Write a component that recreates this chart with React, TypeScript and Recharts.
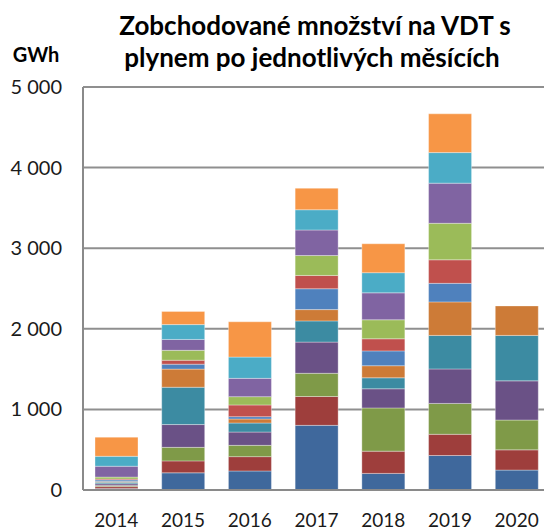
import React from "react";
import { BarChart, Bar, XAxis, YAxis, CartesianGrid } from "recharts";

const years = ["2014", "2015", "2016", "2017", "2018", "2019", "2020"];
const yTicks = [0, 1000, 2000, 3000, 4000, 5000];

const leden = [20, 213, 236, 802, 206, 428, 247];
const unor = [22, 148, 178, 358, 276, 263, 251];
const brezen = [15, 168, 140, 288, 536, 383, 370];
const duben = [20, 283, 165, 387, 238, 428, 486];
const kveten = [18, 463, 112, 263, 136, 416, 564];
const cerven = [12, 225, 50, 140, 150, 416, 366];
const cervenec = [18, 61, 29, 259, 184, 230, null];
const srpen = [10, 49, 145, 165, 150, 292, null];
const zari = [25, 123, 103, 247, 236, 453, null];
const rijen = [135, 135, 227, 317, 334, 498, null];
const listopad = [123, 184, 264, 251, 250, 379, null];
const prosinec = [238, 164, 438, 267, 359, 481, null];

const months = [
  { key: "leden", values: leden, color: "#3F689C" },
  { key: "únor", values: unor, color: "#9E3E3C" },
  { key: "březen", values: brezen, color: "#7F9A48" },
  { key: "duben", values: duben, color: "#6A5186" },
  { key: "květen", values: kveten, color: "#3C8BA2" },
  { key: "červen", values: cerven, color: "#CD7B37" },
  { key: "červenec", values: cervenec, color: "#4F81BD" },
  { key: "srpen", values: srpen, color: "#C0504D" },
  { key: "září", values: zari, color: "#9BBB59" },
  { key: "říjen", values: rijen, color: "#8064A2" },
  { key: "listopad", values: listopad, color: "#4BACC6" },
  { key: "prosinec", values: prosinec, color: "#F79646" },
];

const data = years.map((y, i) => {
  const row: Record<string, any> = { year: y };
  months.forEach((m) => {
    row[m.key] = m.values[i];
  });
  return row;
});

const FONT = "Lato, 'Open Sans', sans-serif";

const fmt = (v: number) =>
  v === 0 ? "0" : `${Math.floor(v / 1000)} ${String(v % 1000).padStart(3, "0")}`;

const YTick = (props: any) => {
  const { y, payload } = props;
  return (
    <text x={62} y={y + 7} textAnchor="end" fontFamily={FONT} fontSize={20} fill="#1a1a1a">
      {fmt(payload.value)}
    </text>
  );
};

const XTick = (props: any) => {
  const { x, payload } = props;
  return (
    <text x={x} y={527} textAnchor="middle" fontFamily={FONT} fontSize={19} fill="#1a1a1a">
      {payload.value}
    </text>
  );
};

export default function App() {
  return (
    <div
      style={{
        position: "absolute",
        left: 0,
        top: 0,
        width: 544,
        height: 530,
        overflow: "hidden",
        background: "#fff",
      }}
    >
      <BarChart
        width={552}
        height={530}
        data={data}
        margin={{ top: 87, right: 2, bottom: 10, left: 0 }}
      >
        <CartesianGrid vertical={false} stroke="#8f8f8f" strokeWidth={2} />
        <XAxis
          dataKey="year"
          height={30}
          tickLine={false}
          axisLine={{ stroke: "#8a8a8a", strokeWidth: 2 }}
          tick={<XTick />}
          interval={0}
        />
        <YAxis
          width={83}
          domain={[0, 5000]}
          ticks={yTicks}
          tickLine={false}
          axisLine={{ stroke: "#8a8a8a", strokeWidth: 2 }}
          tick={<YTick />}
          interval={0}
        />
        {months.map((m) => (
          <Bar
            key={m.key}
            dataKey={m.key}
            stackId="a"
            fill={m.color}
            barSize={43}
            stroke="#ffffff"
            strokeOpacity={0.45}
            strokeWidth={0.75}
            isAnimationActive={false}
          />
        ))}
      </BarChart>
      <svg
        width={544}
        height={80}
        style={{ position: "absolute", left: 0, top: 0, pointerEvents: "none" }}
      >
        <text x={315} y={35} textAnchor="middle" fontFamily={FONT} fontWeight="bold" fontSize={26} fill="#000">
          Zobchodované množství na VDT s
        </text>
        <text x={312} y={67} textAnchor="middle" fontFamily={FONT} fontWeight="bold" fontSize={26} fill="#000">
          plynem po jednotlivých měsících
        </text>
        <text x={36} y={62} textAnchor="middle" fontFamily={FONT} fontWeight="bold" fontSize={20} fill="#000">
          GWh
        </text>
      </svg>
    </div>
  );
}
